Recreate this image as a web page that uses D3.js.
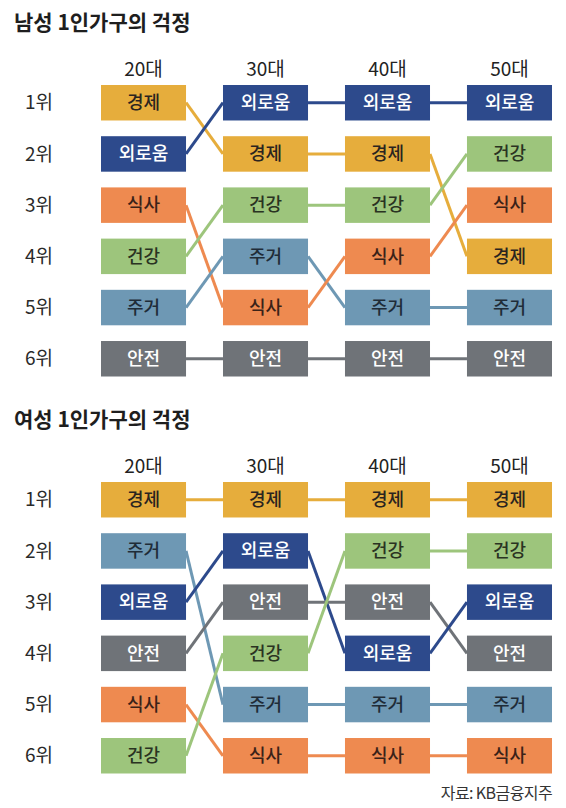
<!DOCTYPE html>
<html>
<head>
<meta charset="utf-8">
<script src="https://cdn.jsdelivr.net/npm/d3@7"></script>
<style>
  body { margin: 0; background: #fff; }
  svg { display: block; font-family: "Noto Sans CJK KR", "Noto Sans", sans-serif; }
</style>
</head>
<body>
<svg id="chart" width="566" height="808"></svg>
<script>
// data
var ages = ["20대", "30대", "40대", "50대"];
var ranks = ["1위", "2위", "3위", "4위", "5위", "6위"];

// ranking per age group, 1위 first
var maleRank = [
  ["경제", "외로움", "식사", "건강", "주거", "안전"],
  ["외로움", "경제", "건강", "주거", "식사", "안전"],
  ["외로움", "경제", "건강", "식사", "주거", "안전"],
  ["외로움", "건강", "식사", "경제", "주거", "안전"]
];
var femaleRank = [
  ["경제", "주거", "외로움", "안전", "식사", "건강"],
  ["경제", "외로움", "안전", "건강", "주거", "식사"],
  ["경제", "건강", "안전", "외로움", "주거", "식사"],
  ["경제", "건강", "외로움", "안전", "주거", "식사"]
];

var worries = ["경제", "외로움", "식사", "건강", "주거", "안전"];
var fills = ["#e6ad3c", "#2d4a8c", "#ee8a50", "#9dc57c", "#6e98b4", "#6f7378"];
var textFills = ["#2a2420", "#ffffff", "#3a2218", "#2a3322", "#1f2c38", "#ffffff"];

var color = d3.scaleOrdinal().domain(worries).range(fills);
var textColor = d3.scaleOrdinal().domain(worries).range(textFills);

var svg = d3.select("#chart");

var x = d3.scaleBand()
    .domain(ages)
    .range([101, 552])
    .paddingInner(0.303);

var y = d3.scaleBand()
    .domain(ranks)
    .range([0, 291.5])
    .paddingInner(0.307);

function drawPanel(title, data, top) {
    var g = svg.append("g").attr("transform", "translate(0," + top + ")");

    g.append("text")
        .attr("x", 14)
        .attr("y", -62)
        .attr("dy", "0.35em")
        .attr("font-size", 21)
        .attr("font-weight", 700)
        .attr("fill", "#1e1e1e")
        .text(title);

    // column headers
    g.selectAll(".age")
        .data(ages)
        .enter().append("text")
        .attr("x", function(d) { return x(d) + x.bandwidth() / 2; })
        .attr("y", -16)
        .attr("dy", "0.35em")
        .attr("text-anchor", "middle")
        .attr("font-size", 19)
        .attr("fill", "#222")
        .text(function(d) { return d; });

    // rank labels
    g.selectAll(".rank")
        .data(ranks)
        .enter().append("text")
        .attr("x", 39)
        .attr("y", function(d) { return y(d) + y.bandwidth() / 2; })
        .attr("dy", "0.35em")
        .attr("text-anchor", "middle")
        .attr("font-size", 19)
        .attr("fill", "#2a2a2a")
        .text(function(d) { return d; });

    // links between consecutive age groups
    var links = [];
    for (var c = 0; c < ages.length - 1; c++) {
        data[c].forEach(function(w, r) {
            var r2 = data[c + 1].indexOf(w);
            links.push({ w: w, c: c, r1: r, r2: r2 });
        });
    }

    g.selectAll(".link")
        .data(links)
        .enter().append("line")
        .attr("x1", function(d) { return x(ages[d.c]) + x.bandwidth(); })
        .attr("x2", function(d) { return x(ages[d.c + 1]); })
        .attr("y1", function(d) { return y(ranks[d.r1]) + y.bandwidth() / 2; })
        .attr("y2", function(d) { return y(ranks[d.r2]) + y.bandwidth() / 2; })
        .attr("stroke", function(d) { return color(d.w); })
        .attr("stroke-width", 3);

    // boxes
    var cells = [];
    data.forEach(function(col, c) {
        col.forEach(function(w, r) { cells.push({ w: w, c: c, r: r }); });
    });

    var cell = g.selectAll(".cell")
        .data(cells)
        .enter().append("g")
        .attr("transform", function(d) { return "translate(" + x(ages[d.c]) + "," + y(ranks[d.r]) + ")"; });

    cell.append("rect")
        .attr("width", x.bandwidth())
        .attr("height", y.bandwidth())
        .attr("fill", function(d) { return color(d.w); });

    cell.append("text")
        .attr("x", x.bandwidth() / 2)
        .attr("y", y.bandwidth() / 2)
        .attr("dy", "0.35em")
        .attr("text-anchor", "middle")
        .attr("font-size", 18)
        .attr("font-weight", 500)
        .attr("fill", function(d) { return textColor(d.w); })
        .text(function(d) { return d.w; });
}

drawPanel("남성 1인가구의 걱정", maleRank, 85);
drawPanel("여성 1인가구의 걱정", femaleRank, 482);

svg.append("text")
    .attr("x", 552)
    .attr("y", 793)
    .attr("dy", "0.35em")
    .attr("text-anchor", "end")
    .attr("font-size", 16)
    .attr("fill", "#333")
    .attr("letter-spacing", "-0.6")
    .text("자료: KB금융지주");
</script>
</body>
</html>
